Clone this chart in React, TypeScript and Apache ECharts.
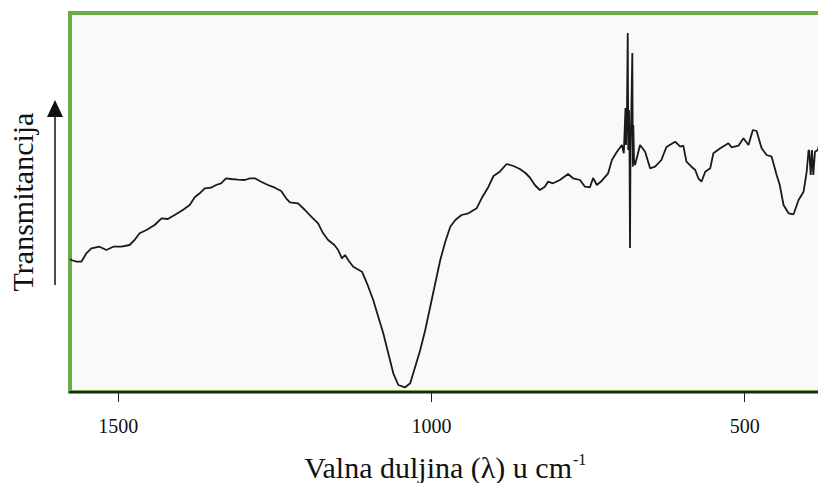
import React, { useEffect, useRef } from "react";
import * as echarts from "echarts";

// Wavenumber (cm-1) and relative transmittance
const wavenumbers: number[] = [
  1577, 1575, 1567, 1559, 1551, 1543, 1530, 1519, 1508, 1495, 1482, 1474, 1466, 1455, 1442, 1431, 1421,
  1410, 1397, 1386, 1378, 1370, 1362, 1352, 1344, 1336, 1328, 1320, 1309, 1298, 1290, 1282, 1272,
  1261, 1250, 1240, 1232, 1226, 1213, 1202, 1192, 1181, 1173, 1165, 1155, 1149, 1143, 1138, 1133,
  1125, 1111, 1103, 1093, 1085, 1077, 1069, 1061, 1053, 1042, 1034, 1026, 1018, 1010, 1002, 994,
  986, 978, 970, 962, 952, 941, 928, 920, 909, 901, 891, 880, 869, 859, 850, 843, 835, 827, 819,
  814, 806, 795, 782, 774, 763, 755, 747, 742, 736, 728, 718, 712, 704, 696, 693, 690.3, 689.5,
  687.9, 686.7, 685.9, 684.7, 683.9, 683.1, 682.3, 681.2, 679.4, 678.6, 677.8, 676.7, 675.1, 667,
  659, 651, 643, 633, 625, 611, 603, 598, 593, 585, 579, 574, 569, 563, 555, 550, 539, 526, 521,
  510, 502, 494, 487, 481, 473, 465, 457, 449, 444, 438, 430, 422, 414, 406, 401, 398, 396.9,
  394.6, 392.6, 390.5, 387.8, 383, 378,
];
const transmittance: number[] = [
  133, 132, 130.3, 130.3, 138.7, 143.7, 145.3, 142, 145.3, 145.3, 147, 152, 158.7, 162, 167, 173.7, 173,
  177, 182, 187, 194.7, 198.7, 203.7, 204.3, 207, 208.7, 213.7, 213, 212.3, 212, 213.7, 213.7, 210.3,
  207, 204.3, 201, 193.7, 189.7, 188.7, 182, 175.3, 168.7, 158.7, 152, 147, 142, 133.7, 137, 132,
  125.3, 120.3, 108.7, 92, 75.3, 58.7, 38.7, 18.7, 7, 4.7, 8.7, 25.3, 42, 62, 85.3, 108.7,
  132, 150.3, 165.3, 172, 177, 178.7, 183.7, 193.7, 205.3, 216, 220.3, 228, 226, 223, 219, 214.5, 207, 202, 205.3,
  210.3, 208.7, 212, 218, 213.7, 212, 205.3, 204.7, 214, 207, 211.3, 218.7, 232, 240.3, 247, 238.7, 284, 247,
  284, 359, 242, 282, 242, 144, 242, 272, 339, 225.3, 267, 232, 227, 247,
  240.3, 223.7, 225.3, 232, 245, 250.3, 245.3, 246.3, 230.3, 225.3, 222, 213.7, 210.3, 220.3, 223.7, 238.7, 243.7, 248.7, 244.7,
  246.3, 253.7, 247, 262, 261, 243.7, 237, 235.3, 217, 207, 187, 178.7, 177.7, 192, 200.3, 220.3, 242, 241,
  217, 242, 217, 240.3, 242, 258,
];
const xTickValues: number[] = [500, 1000, 1500];

const xTitle = "Valna duljina (λ) u cm";
const xTitleSup = "-1";
const yTitle = "Transmitancija";

const SERIF = '"Times New Roman", "Liberation Serif", serif';

if (typeof document !== "undefined") {
  document.body.style.margin = "0";
}

export default function App() {
  const ref = useRef<HTMLDivElement>(null);

  useEffect(() => {
    if (!ref.current) return;
    document.body.style.margin = "0";
    const chart = echarts.init(ref.current, null, { renderer: "svg" });
    const data = wavenumbers.map((w, i) => [w, transmittance[i]]);
    chart.setOption({
      animation: false,
      backgroundColor: "#ffffff",
      textStyle: { fontFamily: SERIF },
      grid: {
        left: 70,
        top: 13,
        width: 753,
        height: 379,
        outerBoundsMode: "none",
        containLabel: false,
        show: true,
        backgroundColor: "#f9f9f9",
        borderColor: "#6aab4a",
        borderWidth: 4,
      },
      xAxis: {
        type: "value",
        inverse: true,
        min: 375,
        max: 1577.1,
        splitLine: { show: false },
        axisLine: { show: true, lineStyle: { color: "#222222", width: 2 } },
        axisTick: {
          show: true,
          customValues: xTickValues,
          length: 10,
          lineStyle: { color: "#222222", width: 1 },
        },
        axisLabel: {
          customValues: xTickValues,
          formatter: (v: number) => String(v),
          color: "#111111",
          fontFamily: SERIF,
          fontSize: 20,
          margin: 24,
        },
      },
      yAxis: {
        type: "value",
        min: 0,
        max: 379,
        show: false,
        splitLine: { show: false },
      },
      series: [
        {
          type: "line",
          data,
          showSymbol: false,
          symbol: "none",
          lineStyle: { color: "#1a1a1a", width: 1.8 },
          clip: true,
        },
      ],
      graphic: [
        {
          type: "text",
          x: 572,
          y: 467,
          style: {
            text: xTitle,
            fontFamily: SERIF,
            fontSize: 30,
            fill: "#111111",
            textAlign: "right",
            textVerticalAlign: "middle",
          },
        },
        {
          type: "text",
          x: 573,
          y: 459,
          style: {
            text: xTitleSup,
            fontFamily: SERIF,
            fontSize: 16,
            fill: "#111111",
            textAlign: "left",
            textVerticalAlign: "middle",
          },
        },
        {
          type: "text",
          x: 22,
          y: 202,
          rotation: Math.PI / 2,
          style: {
            text: yTitle,
            fontFamily: SERIF,
            fontSize: 30,
            fill: "#111111",
            textAlign: "center",
            textVerticalAlign: "middle",
          },
        },
        {
          type: "line",
          shape: { x1: 55, y1: 285, x2: 55, y2: 112 },
          style: { stroke: "#111111", lineWidth: 1.5 },
        },
        {
          type: "polygon",
          shape: { points: [[47, 117], [63, 117], [55, 100]] },
          style: { fill: "#111111" },
        },
      ],
    });
    return () => chart.dispose();
  }, []);

  return <div ref={ref} style={{ width: 818, height: 483 }} />;
}
